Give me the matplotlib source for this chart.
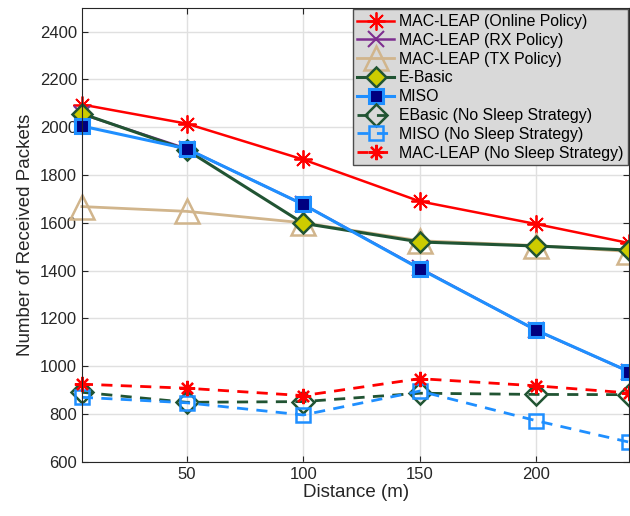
import matplotlib.pyplot as plt

# distances (m)
distance = [5, 50, 100, 150, 200, 240]

online_policy = [2095, 2015, 1865, 1690, 1595, 1515]
rx_policy = [2055, 1910, 1677, 1410, 1150, 977]
tx_policy = [1668, 1648, 1600, 1525, 1505, 1480]
ebasic = [2057, 1905, 1598, 1520, 1503, 1486]
miso = [2005, 1910, 1677, 1408, 1151, 977]
ebasic_ns = [891, 849, 852, 887, 882, 881]
miso_ns = [870, 847, 796, 896, 772, 682]
online_ns = [925, 908, 877, 948, 918, 888]

labels = ["MAC-LEAP (Online Policy)", "MAC-LEAP (RX Policy)", "MAC-LEAP (TX Policy)",
          "E-Basic", "MISO", "EBasic (No Sleep Strategy)", "MISO (No Sleep Strategy)",
          "MAC-LEAP (No Sleep Strategy)"]

plt.rcParams['font.family'] = ['Liberation Sans', 'DejaVu Sans']

RED = (1.0, 0.0, 0.0)
PURPLE = (0.49, 0.18, 0.56)
TAN = (0.82, 0.71, 0.55)
DKGREEN = (0.13, 0.33, 0.2)
BLUE = (0.12, 0.56, 1.0)
NAVY = (0.0, 0.0, 0.5)
ASTER = (8, 2, 0)

fig = plt.figure(figsize=(6.3, 5.16), dpi=100)
ax = fig.add_axes([0.130, 0.105, 0.869, 0.880])

kw = dict(clip_on=False)
ax.plot(distance, online_policy, '-', color=RED, lw=1.8, marker=ASTER, ms=13, mew=1.3, label=labels[0], **kw)
ax.plot(distance, rx_policy, '-', color=PURPLE, lw=1.8, marker='x', ms=12, mew=1.5, label=labels[1], **kw)
ax.plot(distance, tx_policy, '-', color=TAN, lw=2, marker='^', ms=17, mfc='none', mew=1.8, label=labels[2], **kw)
ax.plot(distance, ebasic, '-', color=DKGREEN, lw=2.2, marker='D', ms=10, mfc=(0.8, 0.8, 0.0), mec=DKGREEN, mew=1.8, label=labels[3], **kw)
ax.plot(distance, miso, '-', color=BLUE, lw=2.2, marker='s', ms=10, mfc=NAVY, mec=BLUE, mew=2.2, label=labels[4], **kw)
ax.plot(distance, ebasic_ns, '--', color=DKGREEN, lw=2, dashes=(4, 3), marker='D', ms=11, mfc='none', mew=1.8, label=labels[5], **kw)
ax.plot(distance, miso_ns, '--', color=BLUE, lw=2, dashes=(4, 3), marker='s', ms=10, mfc='none', mew=1.8, label=labels[6], **kw)
ax.plot(distance, online_ns, '--', color=RED, lw=2, dashes=(4, 3), marker=ASTER, ms=11, mew=1.6, label=labels[7], **kw)

ax.set_xlim(5, 240)
ax.set_ylim(600, 2500)
ax.set_xticks([50, 100, 150, 200])
ax.set_yticks(range(600, 2401, 200))
ax.grid(True, color=(0.88, 0.88, 0.88), lw=1)
ax.set_axisbelow(True)
ax.tick_params(direction='in', top=True, right=True, labelsize=12, colors=(0.15, 0.15, 0.15), length=4)
for s in ax.spines.values():
    s.set_color((0.15, 0.15, 0.15))
ax.set_xlabel("Distance (m)", fontsize=13.5, color=(0.15, 0.15, 0.15), labelpad=2)
ax.set_ylabel("Number of Received Packets", fontsize=13.5, color=(0.15, 0.15, 0.15), labelpad=4)

leg = ax.legend(loc='upper right', fontsize=11.4, frameon=True, fancybox=False, borderaxespad=0.1,
                handlelength=2.3, handletextpad=0.3, labelspacing=0.24, borderpad=0.3)
leg.get_frame().set_facecolor((0.85, 0.85, 0.85))
leg.get_frame().set_edgecolor((0.3, 0.3, 0.3))
leg.get_frame().set_alpha(1)

fig.savefig("out.png", dpi=100)
